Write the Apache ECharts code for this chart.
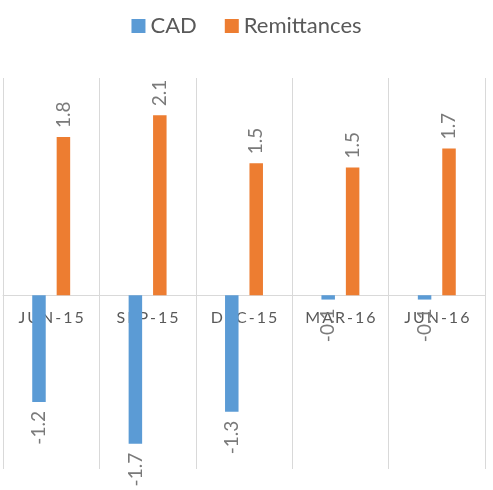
<!DOCTYPE html>
<html>
<head>
<meta charset="utf-8">
<script src="https://cdn.jsdelivr.net/npm/echarts@6/dist/echarts.min.js"></script>
<style>
    html, body { margin: 0; padding: 0; background: #fff; }
    #chart { width: 493px; height: 490px; }
</style>
</head>
<body>
<div id="chart"></div>
<script>
const categories = ['JUN-15', 'SEP-15', 'DEC-15', 'MAR-16', 'JUN-16'];
const cadValues = [-1.23, -1.71, -1.34, -0.05, -0.05];
const remittanceValues = [1.82, 2.07, 1.52, 1.47, 1.69];

const FONT = 'Lato';

// labels go up from the bar end for positive values, down for negative ones
function withLabels (values) {
    return values.map(function (v) {
        return {
            value: v,
            label: { align: v < 0 ? 'right' : 'left' }
        };
    });
}

const barLabel = {
    show: true,
    position: 'outside',
    rotate: 90,
    verticalAlign: 'middle',
    distance: 9,
    color: '#7a7a7a',
    fontFamily: FONT,
    fontSize: 19,
    formatter: function (p) {
        return p.value.toFixed(1);
    }
};

const chart = echarts.init(document.getElementById('chart'));
chart.setOption({
    backgroundColor: '#fff',
    animation: false,
    color: ['#5b9bd5', '#ed7d31'],
    legend: {
        top: 10,
        left: 'center',
        itemWidth: 14,
        itemHeight: 14,
        itemGap: 28,
        icon: 'rect',
        textStyle: {
            color: '#595959',
            fontFamily: FONT,
            fontSize: 22
        },
        data: ['CAD', 'Remittances']
    },
    grid: {
        left: 3,
        right: 8,
        top: 78,
        bottom: 21,
        containLabel: false,
        outerBoundsMode: 'none'
    },
    xAxis: {
        type: 'category',
        data: categories,
        position: 'bottom',
        // sit the axis on the zero line of the hidden value axis
        offset: -174,
        axisTick: { show: false },
        axisLine: {
            onZero: false,
            lineStyle: { color: '#d9d9d9', width: 1 }
        },
        axisLabel: {
            color: '#595959',
            fontFamily: FONT,
            fontSize: 16,
            margin: 15,
            formatter: function (v) {
                return v.split('').join('\u2009');
            }
        },
        splitLine: {
            show: true,
            lineStyle: { color: '#d9d9d9', width: 1 }
        }
    },
    yAxis: {
        type: 'value',
        min: -2,
        max: 2.5,
        show: false
    },
    series: [
        {
            name: 'CAD',
            type: 'bar',
            barWidth: 13.5,
            barGap: '81%',
            data: withLabels(cadValues),
            label: barLabel
        },
        {
            name: 'Remittances',
            type: 'bar',
            barWidth: 13.5,
            barGap: '81%',
            data: withLabels(remittanceValues),
            label: barLabel
        }
    ]
});
</script>
</body>
</html>
